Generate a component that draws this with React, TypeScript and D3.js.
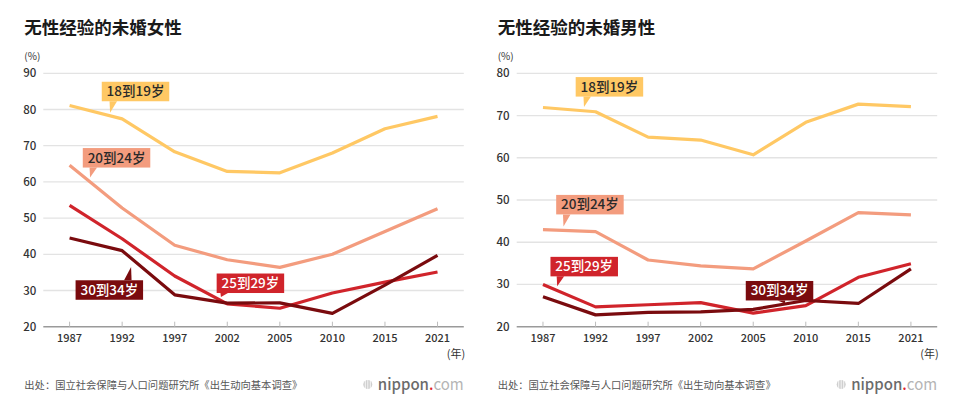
import React from "react";
import * as d3 from "d3";

const years = ["1987", "1992", "1997", "2002", "2005", "2010", "2015", "2021"];
const seriesNames = ["18到19岁", "20到24岁", "25到29岁", "30到34岁"];
const seriesColors = ["#FFC864", "#F39C7E", "#D0242B", "#7A0B0E"];
const labelTextColors = ["#2a2a2a", "#2a2a2a", "#ffffff", "#ffffff"];

// Women
const female1819 = [81.1, 77.4, 68.3, 62.9, 62.5, 68.0, 74.7, 78.1];
const female2024 = [64.6, 52.8, 42.5, 38.5, 36.4, 40.0, 46.3, 52.6];
const female2529 = [53.5, 44.3, 34.0, 26.3, 25.1, 29.3, 32.3, 35.1];
const female3034 = [44.5, 41.0, 28.8, 26.5, 26.6, 23.7, 31.5, 39.7];
const femaleTicks = [20, 30, 40, 50, 60, 70, 80, 90];

// Men
const male1819 = [71.9, 70.9, 64.9, 64.2, 60.7, 68.4, 72.7, 72.1];
const male2024 = [43.0, 42.5, 35.8, 34.4, 33.7, 40.3, 47.0, 46.5];
const male2529 = [30.0, 24.7, 25.2, 25.7, 23.2, 25.0, 31.7, 34.9];
const male3034 = [27.1, 22.8, 23.4, 23.5, 24.1, 26.2, 25.5, 33.7];
const maleTicks = [20, 30, 40, 50, 60, 70, 80];

const titles = ["无性经验的未婚女性", "无性经验的未婚男性"];
const sourceText = "出处：国立社会保障与人口问题研究所《出生动向基本调查》";

const FONT = "'Noto Sans CJK SC', 'Noto Sans', sans-serif";

type Callout = { s: number; ti: number; tv: number; bx: number; by: number; up?: boolean; flip?: boolean };

function Panel(props: {
  left: number;
  title: string;
  data: number[][];
  ticks: number[];
  yMax: number;
  callouts: Callout[];
}) {
  const { left, title, data, ticks, yMax, callouts } = props;
  const x0 = left + 19.5;
  const x1 = x0 + 420.5;
  const yTop = 73.3;
  const yBot = 326.7;
  const x = d3.scalePoint<string>().domain(years).range([x0, x1]).padding(0.5);
  const step = x.step();
  const y = d3.scaleLinear().domain([20, yMax]).range([yBot, yTop]);
  const line = d3
    .line<number>()
    .x((_, i) => x(years[i]) as number)
    .y((d) => y(d));
  const xi = (i: number) => (x(years[0]) as number) + step * i;
  const bw = 67.5;
  const bh = 19.5;
  return (
    <g>
      <text x={left + 0.5} y={33.5} fontFamily={FONT} fontSize={17.5} fontWeight={700} fill="#1a1a1a">
        {title}
      </text>
      <text x={left + 0.5} y={60} fontFamily={FONT} fontSize={10} fill="#333">
        (%)
      </text>
      {ticks.map((t) => (
        <g key={t}>
          {t > 20 && <line x1={x0} x2={x1} y1={y(t)} y2={y(t)} stroke="#e3e3e3" strokeWidth={1.3} />}
          <text
            x={left + 12.5}
            y={y(t) + 4}
            textAnchor="end"
            fontFamily={FONT}
            fontSize={11.5}
            fontWeight={500}
            fill="#333"
          >
            {t}
          </text>
        </g>
      ))}
      {data.map((d, s) => (
        <path
          key={s}
          d={line(d) as string}
          fill="none"
          stroke={seriesColors[s]}
          strokeWidth={3.2}
          strokeLinejoin="round"
        />
      ))}
      <line x1={x0} x2={x1} y1={yBot} y2={yBot} stroke="#9a9a9a" strokeWidth={1.6} />
      {years.map((yr) => (
        <g key={yr}>
          <line
            x1={x(yr) as number}
            x2={x(yr) as number}
            y1={yBot}
            y2={yBot - 5}
            stroke="#bdbdbd"
            strokeWidth={1}
          />
          <text
            x={x(yr) as number}
            y={yBot + 15.5}
            textAnchor="middle"
            fontFamily={FONT}
            fontSize={11}
            fontWeight={500}
            fill="#333"
          >
            {yr}
          </text>
        </g>
      ))}
      <text x={x1 + 1.5} y={358} textAnchor="end" fontFamily={FONT} fontSize={11} fill="#333">
        (年)
      </text>
      {callouts.map((c, k) => {
        const tx = xi(c.ti);
        const ty = y(c.tv);
        const bx = tx + c.bx;
        const by = ty + c.by;
        const edge = c.up ? by : by + bh;
        const pts = c.flip
          ? `${tx - 7},${edge} ${tx + 0.5},${edge} ${tx},${ty}`
          : `${tx - 0.5},${edge} ${tx + 7},${edge} ${tx},${ty}`;
        return (
          <g key={k}>
            <rect x={bx} y={by} width={bw} height={bh} fill={seriesColors[c.s]} />
            <polygon points={pts} fill={seriesColors[c.s]} />
            <text
              x={bx + bw / 2}
              y={by + 14.5}
              textAnchor="middle"
              fontFamily={FONT}
              fontSize={13.5}
              fontWeight={500}
              fill={labelTextColors[c.s]}
            >
              {seriesNames[c.s]}
            </text>
          </g>
        );
      })}
      <text x={left + 0.5} y={389} fontFamily={FONT} fontSize={10.3} fill="#555">
        {sourceText}
      </text>
      <g>
        <circle cx={x1 - 96} cy={384.5} r={4.5} fill="#cfcfcf" />
        {[-2.5, 0, 2.5].map((o) => (
          <line key={o} x1={x1 - 96 + o} x2={x1 - 96 + o} y1={380} y2={389} stroke="#fff" strokeWidth={0.8} />
        ))}
        <text x={x1 - 86} y={389.5} fontFamily={FONT} fontSize={15} fontWeight={500} fill="#6b6b6b">
          nippon
          <tspan fill="#e0262e">.</tspan>
          <tspan fill="#b5b5b5" fontWeight={400}>com</tspan>
        </text>
      </g>
    </g>
  );
}

const femaleCallouts: Callout[] = [
  { s: 0, ti: 0.77, tv: 79.1, bx: -8.3, by: -31 },
  { s: 1, ti: 0.39, tv: 61.2, bx: -7.3, by: -29.5 },
  { s: 3, ti: 1.17, tv: 36.5, bx: -55.5, by: 13.3, up: true, flip: true },
  { s: 2, ti: 2.88, tv: 28.2, bx: -4.3, by: -23.5 },
];
const maleCallouts: Callout[] = [
  { s: 0, ti: 0.78, tv: 72.0, bx: -8.3, by: -30 },
  { s: 1, ti: 0.39, tv: 43.7, bx: -7.3, by: -31.7 },
  { s: 2, ti: 0.27, tv: 29.6, bx: -6.7, by: -29.3 },
  { s: 3, ti: 4.6, tv: 25.5, bx: -39, by: -22.5, flip: true },
];

export default function App() {
  return (
    <svg
      width={960}
      height={417}
      viewBox="0 0 960 417"
      style={{ position: "absolute", left: 0, top: 0, display: "block", background: "#fff" }}
    >
      <rect width={960} height={417} fill="#fff" />
      <Panel
        left={23.8}
        title={titles[0]}
        data={[female1819, female2024, female2529, female3034]}
        ticks={femaleTicks}
        yMax={90}
        callouts={femaleCallouts}
      />
      <Panel
        left={497.2}
        title={titles[1]}
        data={[male1819, male2024, male2529, male3034]}
        ticks={maleTicks}
        yMax={80}
        callouts={maleCallouts}
      />
    </svg>
  );
}
